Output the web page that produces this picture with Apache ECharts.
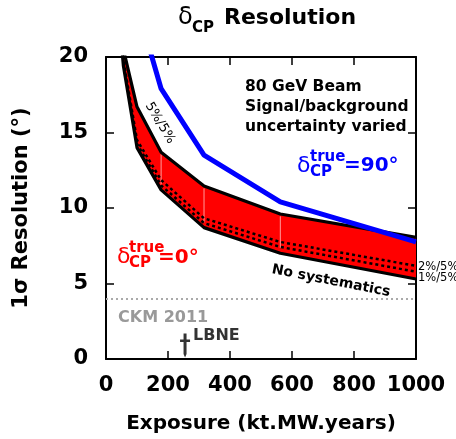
<!DOCTYPE html>
<html>
<head>
<meta charset="utf-8">
<script src="https://cdn.jsdelivr.net/npm/echarts@6/dist/echarts.min.js"></script>
<style>
html,body{margin:0;padding:0;background:#fff;}
#chart{width:456px;height:439px;}
</style>
</head>
<body>
<div id="chart"></div>
<script>
// ---- data ----
var exposure      = [31.6, 56.2, 100, 177.8, 316.2, 562.3, 1000];
var sys5_5        = [28.0, 20.5, 16.7, 13.7, 11.45, 9.6, 8.05];   // 5%/5% (top of band)
var sys2_5        = [25.6, 19.8, 14.5, 11.85, 9.32, 7.75, 6.17];  // 2%/5%
var sys1_5        = [25.3, 19.6, 14.25, 11.5, 9.0, 7.42, 5.78];   // 1%/5%
var noSys         = [25.0, 19.4, 14.0, 11.2, 8.7, 7.0, 5.3];      // No systematics
var delta90       = [40.0, 32.0, 23.4, 17.9, 13.5, 10.4, 7.75];   // delta_CP true = 90 deg, 5%/5%
var ckmLevel      = [4];
var lbneExposure  = [255];
var seamIdx       = [3, 4, 5];
var xTicks        = [0, 200, 400, 600, 800, 1000];
var yTicks        = [0, 5, 10, 15, 20];

function pairs(xs, ys){ return xs.map(function(x,i){ return [x, ys[i]]; }); }

var FONT = 'DejaVu Sans';
var chart = echarts.init(document.getElementById('chart'), null, {renderer:'canvas'});

var axisCommon = {
  axisLine:{show:true, onZero:false, lineStyle:{color:'#000', width:2}},
  axisTick:{show:true, inside:true, length:8, lineStyle:{color:'#000', width:1.5}},
  splitLine:{show:false}
};

function renderBand(params, api){
  if (params.dataIndex !== 0) return null;
  var pts = [];
  for (var i = 0; i < exposure.length; i++) pts.push(api.coord([exposure[i], sys5_5[i]]));
  for (var j = exposure.length - 1; j >= 0; j--) pts.push(api.coord([exposure[j], noSys[j]]));
  var cs = params.coordSys;
  var children = [{type:'polygon', shape:{points:pts}, style:{fill:'#ff0000', stroke:null}}];
  seamIdx.forEach(function(k){
    var p1 = api.coord([exposure[k], noSys[k] + 0.35]);
    var p2 = api.coord([exposure[k], sys5_5[k] - 0.15]);
    children.push({type:'line', shape:{x1:p1[0], y1:p1[1], x2:p2[0], y2:p2[1]}, style:{stroke:'#ff9a9a', lineWidth:1}});
  });
  return {type:'group', children:children,
    clipPath:{type:'rect', shape:{x:cs.x, y:cs.y, width:cs.width, height:cs.height}}};
}

var option = {
  animation:false,
  backgroundColor:'#fff',
  grid:{left:106, top:57, width:310, height:308, containLabel:false},
  xAxis:[
    Object.assign({type:'value', min:0, max:1000, interval:200, position:'bottom',
      name:'Exposure (kt.MW.years)', nameLocation:'middle', nameGap:55,
      nameTextStyle:{fontFamily:FONT, fontWeight:'bold', fontSize:20, color:'#000'},
      axisLabel:{fontFamily:FONT, fontWeight:'bold', fontSize:21, color:'#000', margin:16,
        formatter:function(v){ return xTicks.indexOf(v) >= 0 ? String(v) : ''; }}}, axisCommon),
    Object.assign({type:'value', min:0, max:1000, interval:200, position:'top',
      axisLabel:{show:false}}, axisCommon)
  ],
  yAxis:[
    Object.assign({type:'value', min:0, max:20, interval:5, position:'left',
      name:'1\u03c3 Resolution (\u00b0)', nameLocation:'middle', nameGap:74, nameRotate:90,
      nameTextStyle:{fontFamily:FONT, fontWeight:'bold', fontSize:21, color:'#000'},
      axisLabel:{fontFamily:FONT, fontWeight:'bold', fontSize:21, color:'#000', margin:18,
        formatter:function(v){ return yTicks.indexOf(v) >= 0 ? String(v) : ''; }}}, axisCommon),
    Object.assign({type:'value', min:0, max:20, interval:5, position:'right',
      axisLabel:{show:false}}, axisCommon)
  ],
  series:[
    {type:'custom', name:'band', data:pairs(exposure, sys5_5), renderItem:renderBand, silent:true, z:1,
      markLine:{silent:true, symbol:'none', label:{show:false},
        lineStyle:{color:'#aaa', width:2, type:[2,3]},
        data:[{yAxis:ckmLevel[0]}]}},
    {type:'line', name:'5%/5%', data:pairs(exposure, sys5_5), symbol:'none', z:3,
      lineStyle:{color:'#000', width:3.2}},
    {type:'line', name:'2%/5%', data:pairs(exposure, sys2_5), symbol:'none', z:3,
      lineStyle:{color:'#000', width:2.5, type:[3,3]}},
    {type:'line', name:'1%/5%', data:pairs(exposure, sys1_5), symbol:'none', z:3,
      lineStyle:{color:'#000', width:2.5, type:[3,3]}},
    {type:'line', name:'No systematics', data:pairs(exposure, noSys), symbol:'none', z:3,
      lineStyle:{color:'#000', width:3.2}},
    {type:'line', name:'dcp90', data:pairs(exposure, delta90), symbol:'none', z:4,
      lineStyle:{color:'#0000ff', width:5}},
    {type:'scatter', name:'LBNE', data:[[lbneExposure[0], 0.9]],
      symbol:'path://M3.5,0 h3 v6 h3.5 v2.5 h-3.5 v12 l-1.5,3.5 l-1.5,-3.5 v-12 h-3.5 v-2.5 h3.5 z',
      symbolSize:[10,24], itemStyle:{color:'#000'},
      label:{show:true, position:'right', distance:3, offset:[0,-10], formatter:'LBNE',
        fontFamily:FONT, fontWeight:'bold', fontSize:16, color:'#000'}}
  ],
  graphic:[
    {type:'text', x:178, y:18, style:{text:'\u03b4', font:'24px '+FONT, fill:'#000', verticalAlign:'middle'}},
    {type:'text', x:192, y:28, style:{text:'CP', font:'bold 15px '+FONT, fill:'#000', verticalAlign:'middle'}},
    {type:'text', x:224, y:18, style:{text:'Resolution', font:'bold 22px '+FONT, fill:'#000', verticalAlign:'middle'}},

    {type:'text', x:245, y:77, style:{text:'80 GeV Beam\nSignal/background\nuncertainty varied', font:'bold 15.5px '+FONT, lineHeight:20, fill:'#000', verticalAlign:'top'}},

    {type:'text', x:297, y:166, style:{text:'\u03b4', font:'22px '+FONT, fill:'#0000ff', verticalAlign:'middle'}},
    {type:'text', x:310, y:157, style:{text:'true', font:'bold 15px '+FONT, fill:'#0000ff', verticalAlign:'middle'}},
    {type:'text', x:310, y:172, style:{text:'CP', font:'bold 15px '+FONT, fill:'#0000ff', verticalAlign:'middle'}},
    {type:'text', x:344, y:166, style:{text:'=90\u00b0', font:'bold 20px '+FONT, fill:'#0000ff', verticalAlign:'middle'}},

    {type:'text', x:117, y:257, style:{text:'\u03b4', font:'22px '+FONT, fill:'#ff0000', verticalAlign:'middle'}},
    {type:'text', x:129, y:248, style:{text:'true', font:'bold 15px '+FONT, fill:'#ff0000', verticalAlign:'middle'}},
    {type:'text', x:129, y:263, style:{text:'CP', font:'bold 15px '+FONT, fill:'#ff0000', verticalAlign:'middle'}},
    {type:'text', x:158, y:258, style:{text:'=0\u00b0', font:'bold 20px '+FONT, fill:'#ff0000', verticalAlign:'middle'}},

    {type:'text', x:160, y:123, rotation:-59*Math.PI/180, style:{text:'5%/5%', font:'13px '+FONT, fill:'#000', align:'center', verticalAlign:'middle'}},
    {type:'text', x:331, y:281, rotation:-11*Math.PI/180, style:{text:'No systematics', font:'bold 14px '+FONT, fill:'#000', align:'center', verticalAlign:'middle'}},
    {type:'text', x:418, y:267, style:{text:'2%/5%', font:'11.5px '+FONT, fill:'#000', verticalAlign:'middle'}},
    {type:'text', x:418, y:278, style:{text:'1%/5%', font:'11.5px '+FONT, fill:'#000', verticalAlign:'middle'}},

    {type:'text', x:118, y:318, style:{text:'CKM 2011', font:'bold 16px '+FONT, fill:'#999', verticalAlign:'middle'}}
  ]
};
chart.setOption(option);
</script>
</body>
</html>
